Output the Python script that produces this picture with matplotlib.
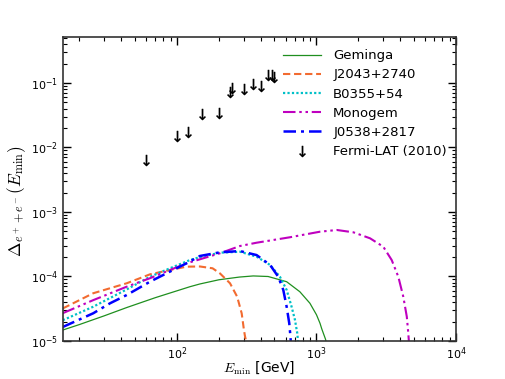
import matplotlib
matplotlib.use("Agg")
import matplotlib.pyplot as plt
import numpy as np

# Geminga (solid green)
gem_E = [15.2, 20, 30, 43.6, 70, 100, 124, 146, 200, 280, 352, 450, 611, 760, 897, 1000, 1060, 1090, 1130, 1160, 1183]
gem_D = [1.48e-5, 1.8e-5, 2.45e-5, 3.3e-5, 4.7e-5, 6.0e-5, 6.95e-5, 7.66e-5, 8.9e-5, 9.8e-5, 1.02e-4, 1.0e-4, 8.3e-5, 5.8e-5, 3.85e-5, 2.55e-5, 1.88e-5, 1.55e-5, 1.25e-5, 1.07e-5, 9.0e-6]

# J2043+2740 (dashed orange)
j20_E = [15.2, 25.1, 43.6, 64, 89, 117, 146, 180, 203, 240, 270, 291, 302, 307, 312, 316]
j20_D = [3.2e-5, 5.5e-5, 7.85e-5, 1.08e-4, 1.26e-4, 1.42e-4, 1.43e-4, 1.34e-4, 1.12e-4, 7.85e-5, 4.86e-5, 2.68e-5, 1.48e-5, 1.2e-5, 1.02e-5, 9.0e-6]

# B0355+54 (dotted cyan)
b03_E = [15.2, 25.1, 43.6, 64, 89, 124, 146, 203, 283, 372, 465, 547, 611, 663, 701, 728, 741]
b03_D = [2.1e-5, 3.4e-5, 6.3e-5, 9.9e-5, 1.34e-4, 1.8e-4, 2.0e-4, 2.34e-4, 2.42e-4, 2.03e-4, 1.51e-4, 9.9e-5, 6.2e-5, 3.4e-5, 2.12e-5, 1.32e-5, 9.0e-6]

# Monogem (dash-dot-dot magenta)
mon_E = [15.2, 25.1, 43.6, 64, 89, 117, 203, 283, 372, 646, 1060, 1400, 1840, 2420, 3010, 3460, 3860, 4190, 4440, 4550, 4610]
mon_D = [2.7e-5, 4.3e-5, 6.95e-5, 9.4e-5, 1.26e-4, 1.6e-4, 2.29e-4, 2.97e-4, 3.34e-4, 4.06e-4, 4.95e-4, 5.26e-4, 4.84e-4, 3.91e-4, 2.9e-4, 1.8e-4, 9.9e-5, 4.86e-5, 2.38e-5, 1.32e-5, 9.0e-6]

# J0538+2817 (dash-dot blue)
j05_E = [15.2, 25.1, 33.1, 43.6, 64, 89, 117, 146, 203, 283, 372, 465, 532, 578, 611, 638, 650, 656]
j05_D = [1.65e-5, 2.69e-5, 3.84e-5, 5.16e-5, 8.3e-5, 1.19e-4, 1.6e-4, 2.08e-4, 2.37e-4, 2.48e-4, 2.15e-4, 1.51e-4, 9.9e-5, 6.2e-5, 3.4e-5, 1.88e-5, 1.2e-5, 9.0e-6]

# Fermi-LAT (2010) upper limits
fermi_E = [60, 100, 120, 150, 200, 240, 250, 300, 350, 400, 450, 480, 500]
fermi_D = [6.4e-3, 1.51e-2, 1.74e-2, 3.3e-2, 3.43e-2, 7.25e-2, 8.4e-2, 8.1e-2, 9.65e-2, 9.0e-2, 0.133, 0.133, 0.124]

labels = ["Geminga", "J2043+2740", "B0355+54", "Monogem", "J0538+2817", "Fermi-LAT (2010)"]

fig = plt.figure(figsize=(5.06, 3.79), dpi=100)
ax = fig.add_axes([63/506, 1-341/379, (456-63)/506, (341-37)/379])

ax.plot(gem_E, gem_D, color="#1f8f1f", lw=0.9, label=labels[0])
ax.plot(j20_E, j20_D, color="#f26b30", lw=1.5, ls=(0, (3.5, 1.8)), label=labels[1])
ax.plot(b03_E, b03_D, color="#00c0c8", lw=1.6, ls=(0, (1, 1)), label=labels[2])
ax.plot(mon_E, mon_D, color="#bf00bf", lw=1.5, ls=(0, (6, 1.8, 1.2, 1.8, 1.2, 1.8)), label=labels[3])
ax.plot(j05_E, j05_D, color="#0000ff", lw=1.8, ls=(0, (5, 2, 1.2, 2)), label=labels[4])
ax.plot(fermi_E, fermi_D, ls="none", marker=r"$\downarrow$", color="black", ms=8, mew=0.2,
        label=labels[5])

ax.set_xscale("log")
ax.set_yscale("log")
ax.set_xlim(10**1.183, 1e4)
ax.set_ylim(1e-5, 10**-0.287)

ax.tick_params(which="both", direction="in", top=True, right=True, labelsize=8)
ax.tick_params(which="major", length=5.5, width=1)
ax.tick_params(which="minor", length=3, width=0.8)
for s in ax.spines.values():
    s.set_linewidth(1.2)
    s.set_color("#333333")

ax.set_xlabel(r"$E_{\rm min}$ [GeV]", fontsize=10, math_fontfamily="cm", labelpad=-2)
ax.set_ylabel(r"$\Delta_{e^+ + e^-}(E_{\rm min})$", fontsize=12.5, math_fontfamily="cm")
ax.yaxis.set_label_coords(-0.09, 0.46)

leg = ax.legend(loc="upper right", bbox_to_anchor=(1.0, 0.99), frameon=False, fontsize=9.5,
                handlelength=2.9, handletextpad=0.9, labelspacing=0.47, borderaxespad=0.3)

fig.savefig("out.png", dpi=100)
